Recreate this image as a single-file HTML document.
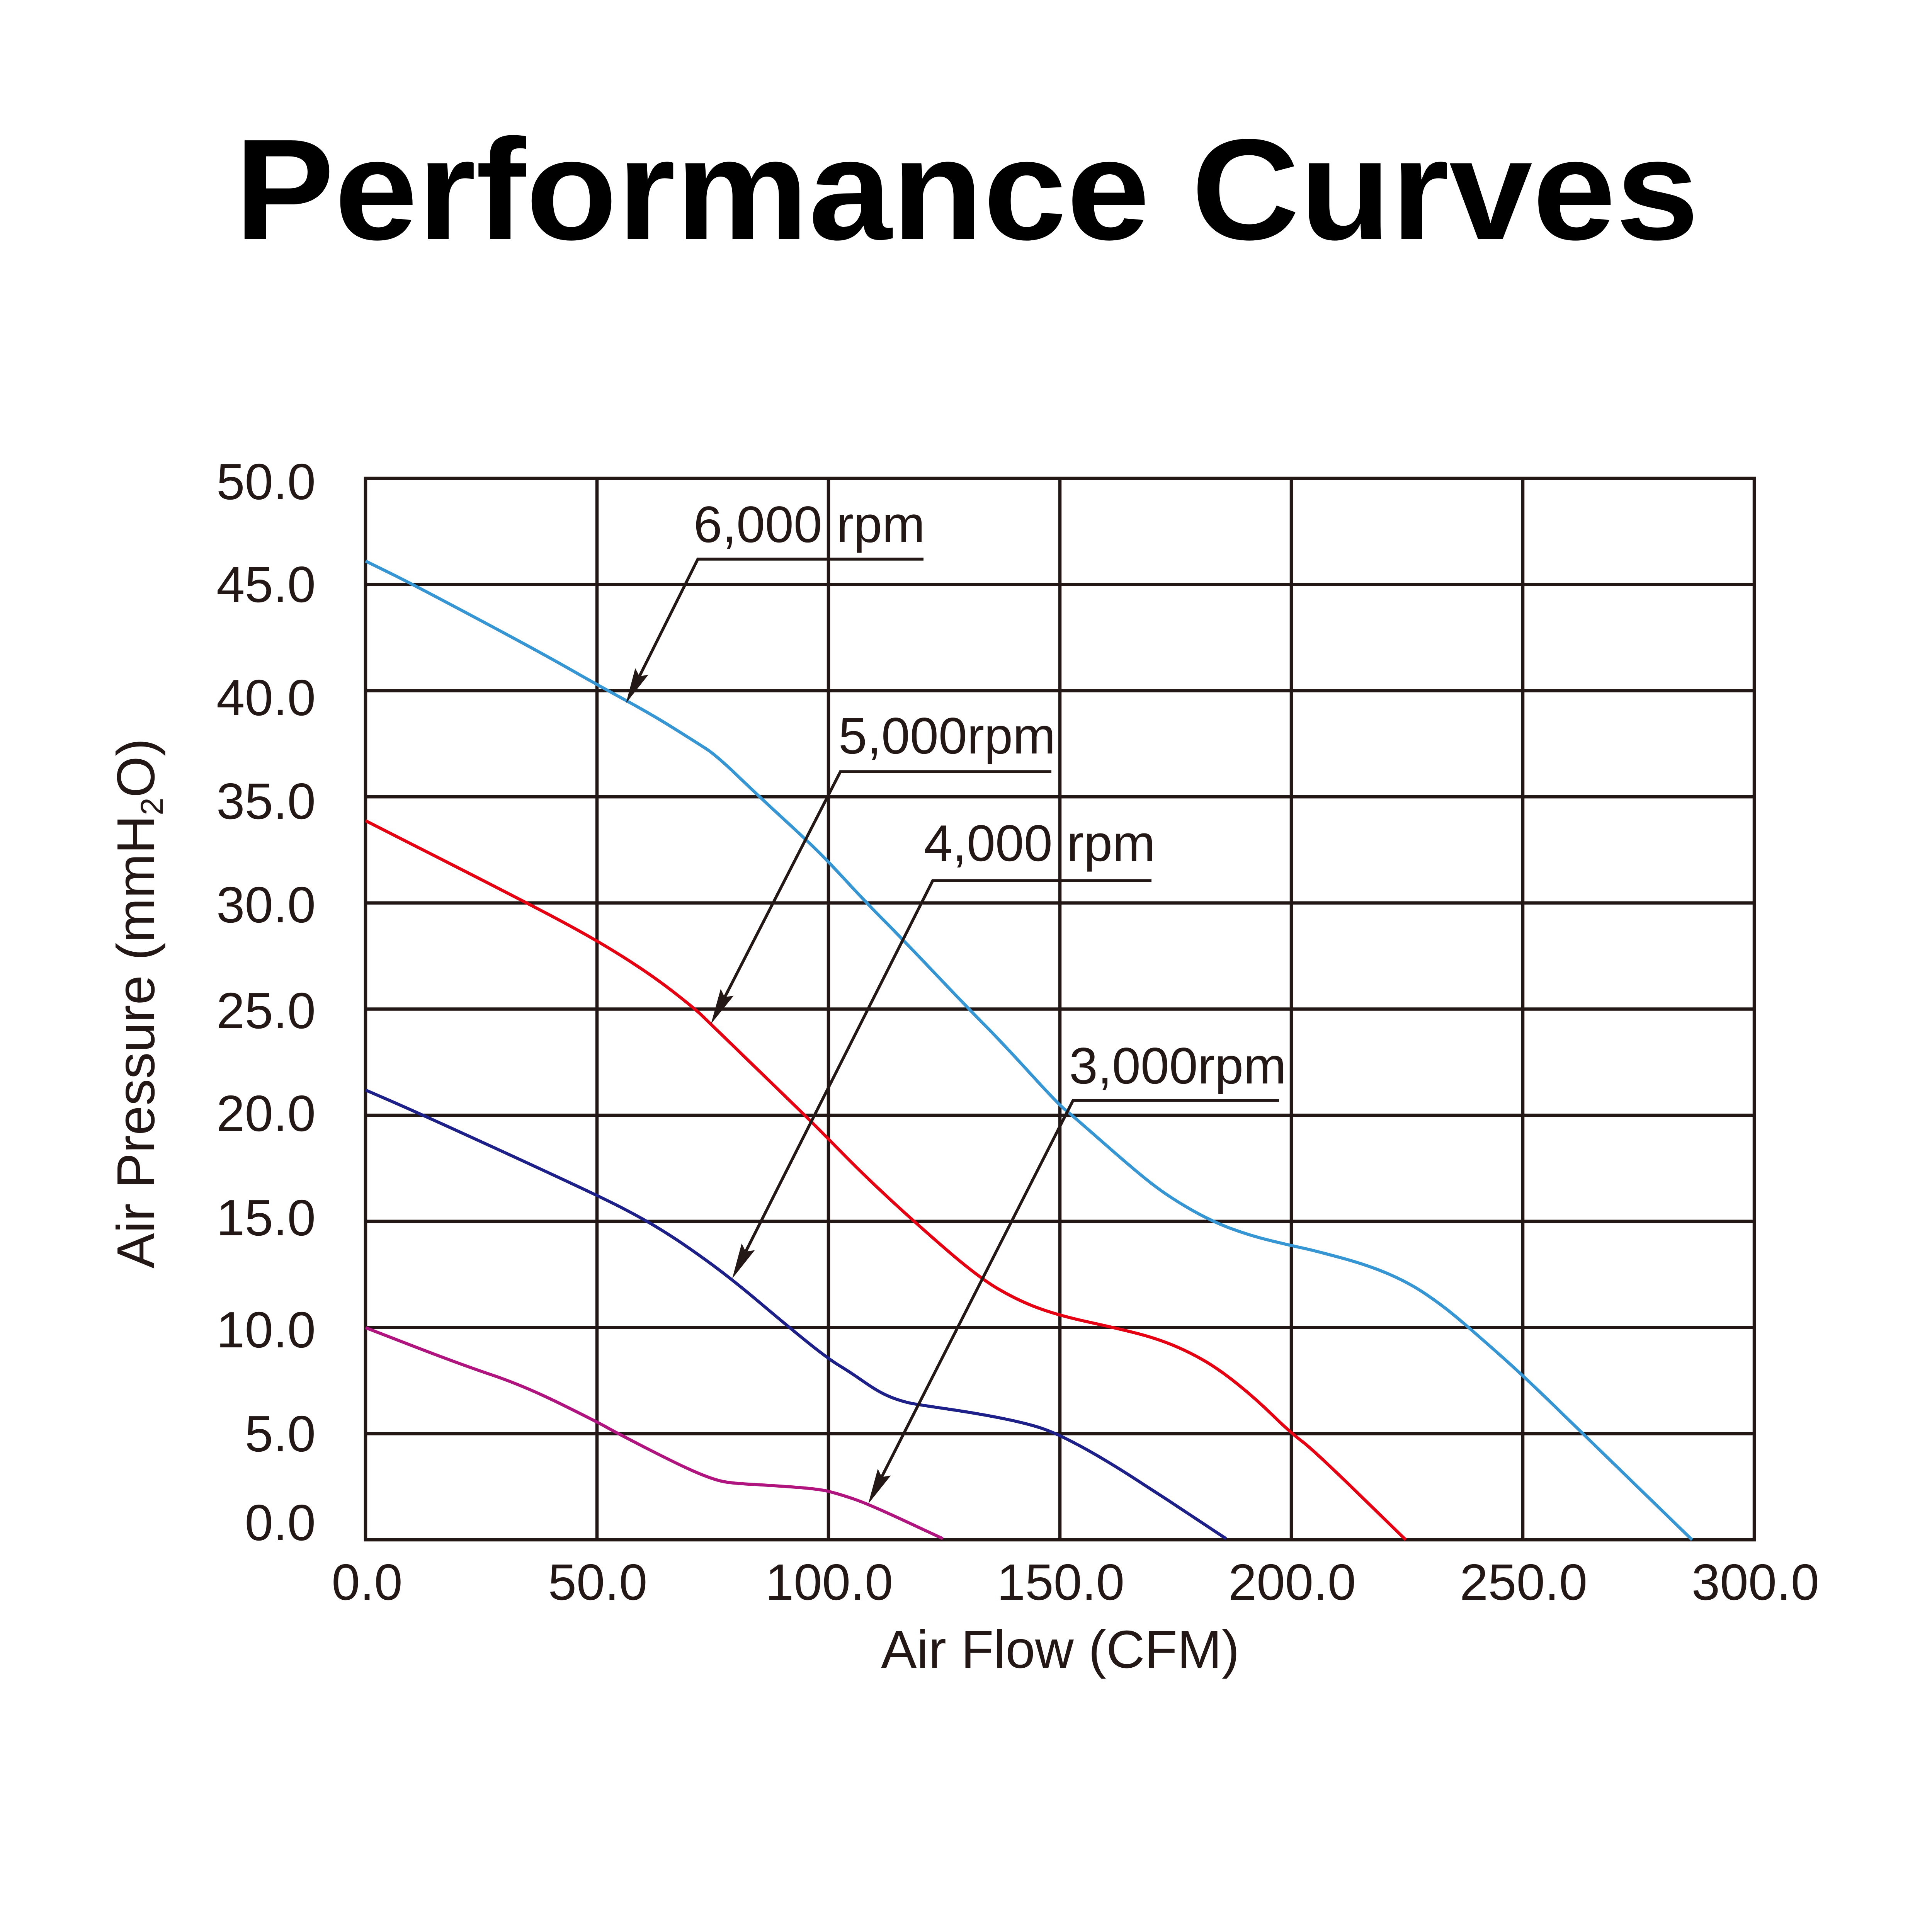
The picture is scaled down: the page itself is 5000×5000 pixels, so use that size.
<!DOCTYPE html>
<html>
<head>
<meta charset="utf-8">
<style>
html,body{margin:0;padding:0;background:#fff;}
svg{display:block;}
</style>
</head>
<body>
<svg width="5000" height="5000" viewBox="0 0 5000 5000" xmlns="http://www.w3.org/2000/svg">
<rect x="0" y="0" width="5000" height="5000" fill="#ffffff"/>

<!-- Title -->
<text x="2502" y="619" font-family="Liberation Sans, Arial, sans-serif" font-weight="bold" font-size="372" text-anchor="middle" textLength="3790" lengthAdjust="spacingAndGlyphs" fill="#000000">Performance Curves</text>

<!-- Grid -->
<g stroke="#231815" stroke-width="8.5" fill="none">
  <line x1="1545" y1="1238" x2="1545" y2="3985"/>
  <line x1="2144" y1="1238" x2="2144" y2="3985"/>
  <line x1="2743" y1="1238" x2="2743" y2="3985"/>
  <line x1="3342" y1="1238" x2="3342" y2="3985"/>
  <line x1="3941" y1="1238" x2="3941" y2="3985"/>
  <line x1="946" y1="3710.3" x2="4540" y2="3710.3"/>
  <line x1="946" y1="3435.6" x2="4540" y2="3435.6"/>
  <line x1="946" y1="3160.9" x2="4540" y2="3160.9"/>
  <line x1="946" y1="2886.2" x2="4540" y2="2886.2"/>
  <line x1="946" y1="2611.5" x2="4540" y2="2611.5"/>
  <line x1="946" y1="2336.8" x2="4540" y2="2336.8"/>
  <line x1="946" y1="2062.1" x2="4540" y2="2062.1"/>
  <line x1="946" y1="1787.4" x2="4540" y2="1787.4"/>
  <line x1="946" y1="1512.7" x2="4540" y2="1512.7"/>
  <rect x="946" y="1238" width="3594" height="2747"/>
</g>

<!-- Curves -->
<g fill="none" stroke-width="8" stroke-linejoin="round" stroke-linecap="butt">
  <path stroke="#3596d3" d="M946,1452 L1007,1482 Q1068,1512 1234,1600.5 Q1400,1689 1472.5,1730.5 Q1545,1772 1615,1810 Q1685,1848 1742.5,1884 Q1800,1920 1827,1937.5 Q1854,1955 1907.5,2006.5 Q1961,2058 2023.5,2115.5 Q2086,2173 2115,2201.5 Q2144,2230 2190.5,2280.5 Q2237,2331 2286.5,2381 Q2336,2431 2420.5,2520 Q2505,2609 2550,2654.5 Q2595,2700 2667.5,2779.5 Q2740,2859 2756,2871.5 Q2772,2884 2859,2960.5 Q2946,3037 2987.5,3068.5 Q3029,3100 3082.5,3130.5 Q3136,3161 3186,3179.5 Q3236,3198 3287.5,3210.5 Q3339,3223 3369.5,3229.5 Q3400,3236 3470,3255 Q3540,3274 3592.5,3296.5 Q3645,3319 3687.5,3347.5 Q3730,3376 3766.5,3406.5 Q3803,3437 3871.5,3497.5 Q3940,3558 4017,3633 Q4094,3708 4236.5,3846.5 L4379,3985"/>
  <path stroke="#e60012" d="M946,2124 L1154.5,2230 Q1363,2336 1453.5,2384.5 Q1544,2433 1615,2478 Q1686,2523 1742,2566.5 Q1798,2610 1819,2630.5 Q1840,2651 1966.5,2773.5 Q2093,2896 2118.5,2922 Q2144,2948 2192,2996.5 Q2240,3045 2303,3103.5 Q2366,3162 2448.5,3233.5 Q2531,3305 2583,3335.5 Q2635,3366 2686.5,3385 Q2738,3404 2813,3420.5 Q2888,3437 2937.5,3449.5 Q2987,3462 3028.5,3478.5 Q3070,3495 3111.5,3518.5 Q3153,3542 3201.5,3581 Q3250,3620 3294.5,3663.5 Q3339,3707 3369.5,3730 Q3400,3753 3519,3869 L3638,3985"/>
  <path stroke="#1d2088" d="M946,2821 L1017.5,2852 Q1089,2883 1316.5,2987.5 Q1544,3092 1607,3124.5 Q1670,3157 1719.5,3188 Q1769,3219 1831.5,3264.5 Q1894,3310 1968.5,3373 Q2043,3436 2093.5,3476.5 Q2144,3517 2172,3534 Q2200,3551 2230,3572 Q2260,3593 2279.5,3603.5 Q2299,3614 2319.5,3621 Q2340,3628 2357,3631.5 Q2374,3635 2452.5,3646.5 Q2531,3658 2597.5,3671.5 Q2664,3685 2702,3698.5 Q2740,3712 2801.5,3745.5 Q2863,3779 2945.5,3832.5 L3028,3886 L3173,3982"/>
  <path stroke="#b0157f" d="M946,3436 L1067.5,3483 Q1189,3530 1272,3558 Q1355,3586 1449.5,3632.5 Q1544,3679 1569.5,3693.5 Q1595,3708 1682,3752.5 Q1769,3797 1810.5,3814 Q1852,3831 1876,3835 Q1900,3839 1938,3841 Q1976,3843 2046.5,3848 Q2117,3853 2143.5,3859.5 Q2170,3866 2208.5,3879 Q2247,3892 2343.5,3937 L2440,3982"/>
</g>

<!-- Leaders -->
<g stroke="#231815" stroke-width="7.5" fill="none" stroke-linejoin="miter">
  <polyline points="2390,1447 1806,1447 1655,1750"/>
  <polyline points="2721,1997 2175,1997 1876,2580"/>
  <polyline points="2980,2279 2414,2279 1930,3239"/>
  <polyline points="3310,2848 2777,2848 2282,3822"/>
</g>
<g fill="#231815">
  <polygon points="1620,1820 1678,1746.2 1654.8,1750.2 1644,1729.2"/>
  <polygon points="1840,2650 1898.9,2576.8 1875.6,2580.6 1865.1,2559.4"/>
  <polygon points="1895,3309 1953.4,3235.4 1930.1,3239.3 1919.4,3218.2"/>
  <polygon points="2247,3892 2305.5,3818.6 2282.3,3822.5 2271.7,3801.4"/>
</g>

<!-- Annotation labels -->
<g font-family="Liberation Sans, Arial, sans-serif" font-size="133" fill="#231815">
  <text x="1795" y="1403">6,000 rpm</text>
  <text x="2170" y="1950">5,000rpm</text>
  <text x="2391" y="2228">4,000 rpm</text>
  <text x="2767" y="2804">3,000rpm</text>
</g>

<!-- Y tick labels -->
<g font-family="Liberation Sans, Arial, sans-serif" font-size="132" fill="#231815" text-anchor="end">
  <text x="817" y="1292">50.0</text>
  <text x="817" y="1558">45.0</text>
  <text x="817" y="1851">40.0</text>
  <text x="817" y="2119">35.0</text>
  <text x="817" y="2387">30.0</text>
  <text x="817" y="2661">25.0</text>
  <text x="817" y="2927">20.0</text>
  <text x="817" y="3197">15.0</text>
  <text x="817" y="3487">10.0</text>
  <text x="817" y="3756">5.0</text>
  <text x="817" y="3986">0.0</text>
</g>

<!-- X tick labels -->
<g font-family="Liberation Sans, Arial, sans-serif" font-size="132" fill="#231815" text-anchor="middle">
  <text x="950" y="4140">0.0</text>
  <text x="1547" y="4140">50.0</text>
  <text x="2146" y="4140">100.0</text>
  <text x="2745" y="4140">150.0</text>
  <text x="3344" y="4140">200.0</text>
  <text x="3943" y="4140">250.0</text>
  <text x="4543" y="4140">300.0</text>
</g>

<!-- Axis titles -->
<text x="2744" y="4316" font-family="Liberation Sans, Arial, sans-serif" font-size="138" fill="#231815" text-anchor="middle">Air Flow (CFM)</text>
<text transform="translate(399,2597) rotate(-90)" font-family="Liberation Sans, Arial, sans-serif" font-size="138" fill="#231815" text-anchor="middle">Air Pressure (mmH<tspan font-size="82" dy="22">2</tspan><tspan dy="-22">O)</tspan></text>
</svg>
</body>
</html>
